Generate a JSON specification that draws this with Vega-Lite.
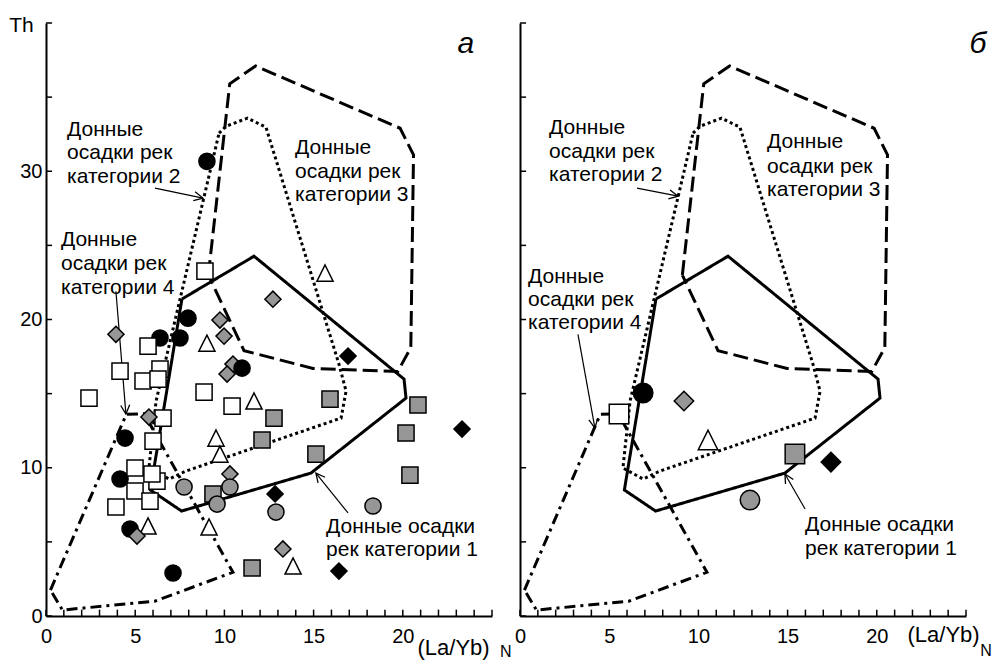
{
  "$schema": "https://vega.github.io/schema/vega-lite/v6.json",
  "padding": {"left": 8, "top": 14, "right": 0, "bottom": 0},
  "bounds": "flush",
  "spacing": 28,
  "config": {
    "view": {"stroke": null},
    "font": "Liberation Sans",
    "axis": {
      "grid": false,
      "domainColor": "black",
      "domainWidth": 2,
      "ticks": false,
      "tickSize": 0,
      "labelFont": "Liberation Sans",
      "labelFontSize": 20,
      "labelColor": "black",
      "labelFlush": false,
      "labelOverlap": false,
      "labelBound": false,
      "titleFont": "Liberation Sans",
      "titleFontSize": 22,
      "titleFontWeight": "normal",
      "titleColor": "black"
    }
  },
  "datasets": {
    "xticks": [
      {"v": 0}, {"v": 1}, {"v": 2}, {"v": 3}, {"v": 4}, {"v": 5}, {"v": 6}, {"v": 7}, {"v": 8}, {"v": 9},
      {"v": 10}, {"v": 11}, {"v": 12}, {"v": 13}, {"v": 14}, {"v": 15}, {"v": 16}, {"v": 17}, {"v": 18}, {"v": 19},
      {"v": 20}, {"v": 21}, {"v": 22}, {"v": 23}, {"v": 24}, {"v": 25}
    ],
    "yticks": [
      {"v": 0}, {"v": 5}, {"v": 10}, {"v": 15}, {"v": 20}, {"v": 25}, {"v": 30}, {"v": 35}, {"v": 40}
    ],
    "zones": [
      {"zone": "1", "i": 0, "x": 7.62, "y": 21.38},
      {"zone": "1", "i": 1, "x": 11.66, "y": 24.27},
      {"zone": "1", "i": 2, "x": 20.07, "y": 15.98},
      {"zone": "1", "i": 3, "x": 20.18, "y": 14.7},
      {"zone": "1", "i": 4, "x": 14.85, "y": 9.64},
      {"zone": "1", "i": 5, "x": 7.6, "y": 7.08},
      {"zone": "1", "i": 6, "x": 5.85, "y": 8.5},
      {"zone": "1", "i": 7, "x": 7.62, "y": 21.38},
      {"zone": "2", "i": 0, "x": 9.7, "y": 32.57},
      {"zone": "2", "i": 1, "x": 10.1, "y": 33.04},
      {"zone": "2", "i": 2, "x": 11.3, "y": 33.58},
      {"zone": "2", "i": 3, "x": 12.33, "y": 32.97},
      {"zone": "2", "i": 4, "x": 16.42, "y": 16.99},
      {"zone": "2", "i": 5, "x": 16.82, "y": 15.17},
      {"zone": "2", "i": 6, "x": 16.54, "y": 13.35},
      {"zone": "2", "i": 7, "x": 7.85, "y": 9.78},
      {"zone": "2", "i": 8, "x": 6.9, "y": 9.24},
      {"zone": "2", "i": 9, "x": 5.77, "y": 9.98},
      {"zone": "2", "i": 10, "x": 6.17, "y": 14.5},
      {"zone": "2", "i": 11, "x": 9.7, "y": 32.57},
      {"zone": "3", "i": 0, "x": 9.1, "y": 23.0},
      {"zone": "3", "i": 1, "x": 10.3, "y": 35.9},
      {"zone": "3", "i": 2, "x": 11.75, "y": 37.1},
      {"zone": "3", "i": 3, "x": 19.85, "y": 32.9},
      {"zone": "3", "i": 4, "x": 20.6, "y": 31.1},
      {"zone": "3", "i": 5, "x": 20.45, "y": 18.1},
      {"zone": "3", "i": 6, "x": 19.72, "y": 16.5},
      {"zone": "3", "i": 7, "x": 14.97, "y": 16.7},
      {"zone": "3", "i": 8, "x": 11.1, "y": 17.9},
      {"zone": "3", "i": 9, "x": 9.1, "y": 23.0},
      {"zone": "4", "i": 0, "x": 0.25, "y": 1.75},
      {"zone": "4", "i": 1, "x": 4.5, "y": 13.6},
      {"zone": "4", "i": 2, "x": 5.5, "y": 13.65},
      {"zone": "4", "i": 3, "x": 10.48, "y": 2.95},
      {"zone": "4", "i": 4, "x": 6.1, "y": 1.0},
      {"zone": "4", "i": 5, "x": 0.92, "y": 0.4},
      {"zone": "4", "i": 6, "x": 0.25, "y": 1.75}
    ],
    "left_pts": [
      {"type": "bc", "x": 9.02, "y": 30.67},
      {"type": "bc", "x": 6.39, "y": 18.75},
      {"type": "bc", "x": 7.51, "y": 18.75},
      {"type": "bc", "x": 7.96, "y": 20.09},
      {"type": "bc", "x": 4.43, "y": 12.0},
      {"type": "bc", "x": 4.15, "y": 9.24},
      {"type": "bc", "x": 4.71, "y": 5.87},
      {"type": "bc", "x": 7.12, "y": 2.9},
      {"type": "ws", "x": 8.91, "y": 23.26},
      {"type": "ws", "x": 5.72, "y": 18.2},
      {"type": "ws", "x": 4.15, "y": 16.52},
      {"type": "ws", "x": 5.44, "y": 15.85},
      {"type": "ws", "x": 6.39, "y": 16.65},
      {"type": "ws", "x": 6.28, "y": 15.98},
      {"type": "ws", "x": 2.41, "y": 14.7},
      {"type": "ws", "x": 8.86, "y": 15.1},
      {"type": "ws", "x": 10.43, "y": 14.16},
      {"type": "ws", "x": 6.56, "y": 13.35},
      {"type": "ws", "x": 6.0, "y": 11.8},
      {"type": "ws", "x": 4.99, "y": 9.98},
      {"type": "ws", "x": 4.99, "y": 8.43},
      {"type": "ws", "x": 6.22, "y": 9.1},
      {"type": "ws", "x": 5.94, "y": 9.58},
      {"type": "ws", "x": 5.83, "y": 7.75},
      {"type": "ws", "x": 3.92, "y": 7.35},
      {"type": "wt", "x": 15.64, "y": 23.13},
      {"type": "wt", "x": 9.02, "y": 18.4},
      {"type": "wt", "x": 11.66, "y": 14.5},
      {"type": "wt", "x": 9.53, "y": 12.0},
      {"type": "wt", "x": 9.75, "y": 10.92},
      {"type": "wt", "x": 5.72, "y": 6.07},
      {"type": "wt", "x": 9.14, "y": 6.0},
      {"type": "wt", "x": 13.85, "y": 3.37},
      {"type": "gd", "x": 12.72, "y": 21.37},
      {"type": "gd", "x": 3.92, "y": 19.0},
      {"type": "gd", "x": 9.75, "y": 19.96},
      {"type": "gd", "x": 9.98, "y": 18.88},
      {"type": "gd", "x": 10.48, "y": 16.99},
      {"type": "gd", "x": 10.15, "y": 16.32},
      {"type": "gd", "x": 5.77, "y": 13.42},
      {"type": "gd", "x": 10.31, "y": 9.58},
      {"type": "gd", "x": 5.1, "y": 5.39},
      {"type": "gd", "x": 13.28, "y": 4.52},
      {"type": "bc", "x": 10.99, "y": 16.72},
      {"type": "gs", "x": 15.92, "y": 14.63},
      {"type": "gs", "x": 12.78, "y": 13.35},
      {"type": "gs", "x": 12.11, "y": 11.87},
      {"type": "gs", "x": 15.13, "y": 10.92},
      {"type": "gs", "x": 20.85, "y": 14.23},
      {"type": "gs", "x": 20.18, "y": 12.34},
      {"type": "gs", "x": 20.4, "y": 9.5},
      {"type": "gs", "x": 9.36, "y": 8.23},
      {"type": "gs", "x": 11.55, "y": 3.24},
      {"type": "gc", "x": 7.74, "y": 8.7},
      {"type": "gc", "x": 9.59, "y": 7.55},
      {"type": "gc", "x": 10.31, "y": 8.7},
      {"type": "gc", "x": 12.89, "y": 7.01},
      {"type": "gc", "x": 18.33, "y": 7.42},
      {"type": "bd", "x": 16.93, "y": 17.53},
      {"type": "bd", "x": 12.84, "y": 8.23},
      {"type": "bd", "x": 23.32, "y": 12.61},
      {"type": "bd", "x": 16.42, "y": 3.03}
    ],
    "right_pts": [
      {"type": "bc", "x": 6.9, "y": 15.04},
      {"type": "ws", "x": 5.55, "y": 13.62},
      {"type": "gd", "x": 9.19, "y": 14.5},
      {"type": "wt", "x": 10.54, "y": 11.87},
      {"type": "gs", "x": 15.41, "y": 10.92},
      {"type": "bd", "x": 17.43, "y": 10.38},
      {"type": "gc", "x": 12.89, "y": 7.82}
    ],
    "left_notes": [
      {"t": "Донные", "x": 1.18, "y": 32.37},
      {"t": "осадки рек", "x": 1.18, "y": 30.82},
      {"t": "категории 2", "x": 1.18, "y": 29.2},
      {"t": "Донные", "x": 13.96, "y": 31.15},
      {"t": "осадки рек", "x": 13.96, "y": 29.53},
      {"t": "категории 3", "x": 13.96, "y": 27.98},
      {"t": "Донные", "x": 0.84, "y": 24.95},
      {"t": "осадки рек", "x": 0.84, "y": 23.33},
      {"t": "категории 4", "x": 0.84, "y": 21.71},
      {"t": "Донные осадки", "x": 15.7, "y": 5.6},
      {"t": "рек категории 1", "x": 15.7, "y": 4.05}
    ],
    "right_notes": [
      {"t": "Донные", "x": 1.63, "y": 32.5},
      {"t": "осадки рек", "x": 1.63, "y": 30.9},
      {"t": "категории 2", "x": 1.63, "y": 29.33},
      {"t": "Донные", "x": 13.85, "y": 31.56},
      {"t": "осадки рек", "x": 13.85, "y": 29.9},
      {"t": "категории 3", "x": 13.85, "y": 28.3},
      {"t": "Донные", "x": 0.45, "y": 22.45},
      {"t": "осадки рек", "x": 0.45, "y": 20.9},
      {"t": "категории 4", "x": 0.45, "y": 19.35},
      {"t": "Донные осадки", "x": 15.98, "y": 5.73},
      {"t": "рек категории 1", "x": 15.98, "y": 4.11}
    ],
    "left_arrows": [
      {"x": 6.11, "y": 28.86, "x2": 8.8, "y2": 28.19, "ang": 101.7},
      {"x": 3.92, "y": 21.91, "x2": 4.48, "y2": 13.62, "ang": 175.4},
      {"x": 16.93, "y": 6.95, "x2": 15.13, "y2": 9.64, "ang": 321.2}
    ],
    "right_arrows": [
      {"x": 6.56, "y": 28.86, "x2": 8.86, "y2": 28.32, "ang": 101},
      {"x": 3.25, "y": 19.0, "x2": 4.2, "y2": 12.68, "ang": 169.7},
      {"x": 15.98, "y": 7.22, "x2": 14.85, "y2": 9.58, "ang": 330}
    ],
    "left_tags": [
      {"t": "а", "x": 23.54, "y": 37.96, "kind": "panel"},
      {"t": "N", "x": 25.45, "y": -2.76, "kind": "sub"}
    ],
    "right_tags": [
      {"t": "б", "x": 25.67, "y": 37.96, "kind": "panel"},
      {"t": "N", "x": 25.8, "y": -2.7, "kind": "sub"}
    ]
  },
  "hconcat": [
    {
      "width": 446,
      "height": 593,
      "layer": [
        {
          "data": {"name": "zones"},
          "mark": {"type": "line", "strokeWidth": 3, "color": "black", "strokeCap": "butt"},
          "encoding": {
            "x": {"field": "x", "type": "quantitative", "scale": {"domain": [0, 25], "nice": false},
              "axis": {"values": [0, 5, 10, 15, 20], "labelOverlap": false, "labelPadding": 10, "labelAngle": 0,
                "title": "(La/Yb)", "titleX": 371, "titleY": 38, "titleAlign": "left", "titleBaseline": "alphabetic"}},
            "y": {"field": "y", "type": "quantitative", "scale": {"domain": [0, 40], "nice": false},
              "axis": {"values": [0, 10, 20, 30], "labelOverlap": false, "labelPadding": 4,
                "title": "Th", "titleFontSize": 21, "titleAngle": 0, "titleX": -25, "titleY": 8, "titleAlign": "center", "titleBaseline": "alphabetic"}},
            "strokeDash": {"field": "zone", "type": "nominal",
              "scale": {"domain": ["1","2","3","4"], "range": [[1,0],[3,3],[15,6],[11,5,3,5]]}, "legend": null},
            "order": {"field": "i", "type": "quantitative"}
          }
        },
        {
          "data": {"name": "xticks"},
          "mark": {"type": "rule", "strokeWidth": 1.5, "color": "black"},
          "encoding": {
            "x": {"field": "v", "type": "quantitative"},
            "y": {"datum": 0, "type": "quantitative"},
            "y2": {"datum": 0.43}
          }
        },
        {
          "data": {"name": "yticks"},
          "mark": {"type": "rule", "strokeWidth": 1.5, "color": "black"},
          "encoding": {
            "y": {"field": "v", "type": "quantitative"},
            "x": {"datum": 0, "type": "quantitative"},
            "x2": {"datum": 0.34}
          }
        },
        {
          "data": {"name": "left_arrows"},
          "mark": {"type": "rule", "strokeWidth": 1.2, "color": "black"},
          "encoding": {
            "x": {"field": "x", "type": "quantitative"},
            "y": {"field": "y", "type": "quantitative"},
            "x2": {"field": "x2"},
            "y2": {"field": "y2"}
          }
        },
        {
          "data": {"name": "left_arrows"},
          "mark": {"type": "point", "shape": "M-0.5,1L0,0L0.5,1", "filled": false, "stroke": "black", "strokeWidth": 1.3, "size": 324, "opacity": 1},
          "encoding": {
            "x": {"field": "x2", "type": "quantitative"},
            "y": {"field": "y2", "type": "quantitative"},
            "angle": {"field": "ang", "type": "quantitative", "scale": null}
          }
        },
        {
          "data": {"name": "left_pts"},
          "mark": {"type": "point", "filled": true, "stroke": "black", "strokeWidth": 1.5, "size": 260, "opacity": 1},
          "encoding": {
            "x": {"field": "x", "type": "quantitative"},
            "y": {"field": "y", "type": "quantitative"},
            "shape": {"field": "type", "type": "nominal", "legend": null,
              "scale": {"domain": ["bc","ws","wt","gd","gc","gs","bd"],
                "range": ["circle","square","M0,-1L1,1L-1,1Z","diamond","circle","square","diamond"]}},
            "fill": {"field": "type", "type": "nominal", "legend": null,
              "scale": {"domain": ["bc","ws","wt","gd","gc","gs","bd"],
                "range": ["black","white","white","#969696","#969696","#969696","black"]}}
          }
        },
        {
          "data": {"name": "left_notes"},
          "mark": {"type": "text", "align": "left", "baseline": "alphabetic", "fontSize": 21, "font": "Liberation Sans", "color": "black"},
          "encoding": {
            "x": {"field": "x", "type": "quantitative"},
            "y": {"field": "y", "type": "quantitative"},
            "text": {"field": "t", "type": "nominal"}
          }
        },
        {
          "data": {"name": "left_tags"},
          "transform": [{"filter": "datum.kind === 'panel'"}],
          "mark": {"type": "text", "align": "center", "baseline": "alphabetic", "fontSize": 30, "fontStyle": "italic", "font": "Liberation Sans", "color": "black"},
          "encoding": {
            "x": {"field": "x", "type": "quantitative"},
            "y": {"field": "y", "type": "quantitative"},
            "text": {"field": "t", "type": "nominal"}
          }
        },
        {
          "data": {"name": "left_tags"},
          "transform": [{"filter": "datum.kind === 'sub'"}],
          "mark": {"type": "text", "align": "left", "baseline": "alphabetic", "fontSize": 16, "font": "Liberation Sans", "color": "black"},
          "encoding": {
            "x": {"field": "x", "type": "quantitative"},
            "y": {"field": "y", "type": "quantitative"},
            "text": {"field": "t", "type": "nominal"}
          }
        }
      ]
    },
    {
      "width": 446,
      "height": 593,
      "layer": [
        {
          "data": {"name": "zones"},
          "mark": {"type": "line", "strokeWidth": 3, "color": "black", "strokeCap": "butt"},
          "encoding": {
            "x": {"field": "x", "type": "quantitative", "scale": {"domain": [0, 25], "nice": false},
              "axis": {"values": [0, 5, 10, 15, 20], "labelOverlap": false, "labelPadding": 10, "labelAngle": 0,
                "title": "(La/Yb)", "titleX": 387, "titleY": 25, "titleAlign": "left", "titleBaseline": "alphabetic"}},
            "y": {"field": "y", "type": "quantitative", "scale": {"domain": [0, 40], "nice": false},
              "axis": {"values": [0, 10, 20, 30], "labels": false, "title": null}},
            "strokeDash": {"field": "zone", "type": "nominal",
              "scale": {"domain": ["1","2","3","4"], "range": [[1,0],[3,3],[15,6],[11,5,3,5]]}, "legend": null},
            "order": {"field": "i", "type": "quantitative"}
          }
        },
        {
          "data": {"name": "xticks"},
          "mark": {"type": "rule", "strokeWidth": 1.5, "color": "black"},
          "encoding": {
            "x": {"field": "v", "type": "quantitative"},
            "y": {"datum": 0, "type": "quantitative"},
            "y2": {"datum": 0.43}
          }
        },
        {
          "data": {"name": "yticks"},
          "mark": {"type": "rule", "strokeWidth": 1.5, "color": "black"},
          "encoding": {
            "y": {"field": "v", "type": "quantitative"},
            "x": {"datum": 0, "type": "quantitative"},
            "x2": {"datum": 0.34}
          }
        },
        {
          "data": {"name": "right_arrows"},
          "mark": {"type": "rule", "strokeWidth": 1.2, "color": "black"},
          "encoding": {
            "x": {"field": "x", "type": "quantitative"},
            "y": {"field": "y", "type": "quantitative"},
            "x2": {"field": "x2"},
            "y2": {"field": "y2"}
          }
        },
        {
          "data": {"name": "right_arrows"},
          "mark": {"type": "point", "shape": "M-0.5,1L0,0L0.5,1", "filled": false, "stroke": "black", "strokeWidth": 1.3, "size": 324, "opacity": 1},
          "encoding": {
            "x": {"field": "x2", "type": "quantitative"},
            "y": {"field": "y2", "type": "quantitative"},
            "angle": {"field": "ang", "type": "quantitative", "scale": null}
          }
        },
        {
          "data": {"name": "right_pts"},
          "mark": {"type": "point", "filled": true, "stroke": "black", "strokeWidth": 1.5, "size": 380, "opacity": 1},
          "encoding": {
            "x": {"field": "x", "type": "quantitative"},
            "y": {"field": "y", "type": "quantitative"},
            "shape": {"field": "type", "type": "nominal", "legend": null,
              "scale": {"domain": ["bc","ws","wt","gd","gc","gs","bd"],
                "range": ["circle","square","M0,-1L1,1L-1,1Z","diamond","circle","square","diamond"]}},
            "fill": {"field": "type", "type": "nominal", "legend": null,
              "scale": {"domain": ["bc","ws","wt","gd","gc","gs","bd"],
                "range": ["black","white","white","#969696","#969696","#969696","black"]}}
          }
        },
        {
          "data": {"name": "right_notes"},
          "mark": {"type": "text", "align": "left", "baseline": "alphabetic", "fontSize": 21, "font": "Liberation Sans", "color": "black"},
          "encoding": {
            "x": {"field": "x", "type": "quantitative"},
            "y": {"field": "y", "type": "quantitative"},
            "text": {"field": "t", "type": "nominal"}
          }
        },
        {
          "data": {"name": "right_tags"},
          "transform": [{"filter": "datum.kind === 'panel'"}],
          "mark": {"type": "text", "align": "center", "baseline": "alphabetic", "fontSize": 30, "fontStyle": "italic", "font": "Liberation Sans", "color": "black"},
          "encoding": {
            "x": {"field": "x", "type": "quantitative"},
            "y": {"field": "y", "type": "quantitative"},
            "text": {"field": "t", "type": "nominal"}
          }
        },
        {
          "data": {"name": "right_tags"},
          "transform": [{"filter": "datum.kind === 'sub'"}],
          "mark": {"type": "text", "align": "left", "baseline": "alphabetic", "fontSize": 16, "font": "Liberation Sans", "color": "black"},
          "encoding": {
            "x": {"field": "x", "type": "quantitative"},
            "y": {"field": "y", "type": "quantitative"},
            "text": {"field": "t", "type": "nominal"}
          }
        }
      ]
    }
  ]
}
